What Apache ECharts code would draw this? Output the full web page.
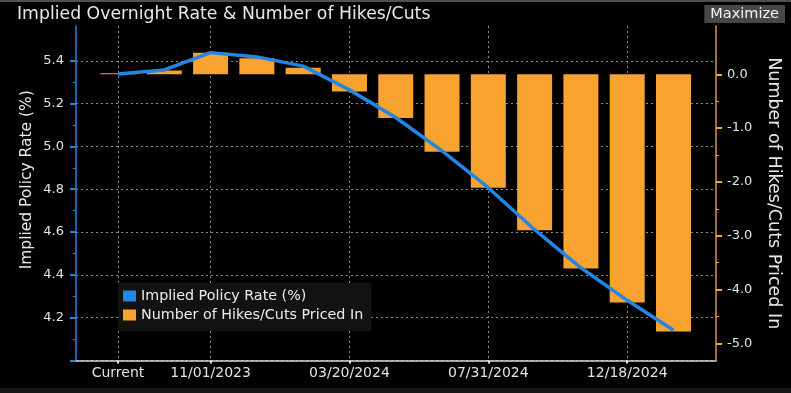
<!DOCTYPE html>
<html><head><meta charset="utf-8">
<script src="https://cdn.jsdelivr.net/npm/echarts@6/dist/echarts.min.js"></script>
<style>html,body{margin:0;padding:0;background:#000;}#c{width:791px;height:393px;}</style>
</head><body><div id="c"></div>
<script>
// ---- data ----
const categories = ['Current','09/20/2023','11/01/2023','12/13/2023','01/31/2024','03/20/2024','05/01/2024','06/12/2024','07/31/2024','09/18/2024','11/07/2024','12/18/2024','01/29/2025'];
const impliedRate = [5.338,5.357,5.438,5.418,5.375,5.264,5.135,4.979,4.807,4.611,4.433,4.281,4.141];
const hikesCuts = [0.02,0.07,0.40,0.30,0.12,-0.32,-0.81,-1.44,-2.11,-2.90,-3.61,-4.24,-4.78];
const shownDateLabels = ['Current','11/01/2023','03/20/2024','07/31/2024','12/18/2024'];
const rateTickRange = [4.0, 5.4];   // left axis tick values (step 0.2)
const rateTickStep = 0.2;
const countTickRange = [-5, 0];     // right axis tick values (step 1)
const countTickStep = 1;

// ---- layout ----
const W = 791, H = 393;
const axL = 76, axR = 716, plotTop = 26, plotBottom = 360.5;
const firstX = 118, lastX = 673.5;
const pxPerRate = 214.1, pxPerCount = 53.8, zeroCountY = 74.3;
const rateAtBottom = 4.0;
const rateY = v => plotBottom - (v - rateAtBottom) * pxPerRate;
const countY = v => zeroCountY - v * pxPerCount;
const rateMaxTop = rateAtBottom + (plotBottom - plotTop) / pxPerRate;
const countMinBottom = -(plotBottom - zeroCountY) / pxPerCount;
const countMaxTop = (zeroCountY - plotTop) / pxPerCount;

const FONT = 'DejaVu Sans';
const BLUE = '#2186e4';
const ORANGE = '#f8a22f';
const GRIDC = '#8a8a8a';
const labelFn = (i, v) => shownDateLabels.includes(v);

const chart = echarts.init(document.getElementById('c'), null, {renderer: 'canvas'});
chart.setOption({
  backgroundColor: '#000',
  animation: false,
  title: [
    {text: 'Implied Overnight Rate & Number of Hikes/Cuts', left: 12, top: 1,
     textStyle: {color: '#e8e8e8', fontSize: 17.3, fontWeight: 'normal', fontFamily: FONT}},
    {text: 'Maximize', right: 6, top: 5, padding: [1, 6, 1, 6], backgroundColor: '#474747',
     textStyle: {color: '#f2f2f2', fontSize: 14.5, fontWeight: 'normal', fontFamily: FONT, lineHeight: 16}}
  ],
  graphic: [
    {type: 'rect', shape: {x: 0, y: 0, width: W, height: 2}, style: {fill: '#505050'}, silent: true},
    {type: 'rect', shape: {x: 0, y: 388, width: W, height: 5}, style: {fill: '#151515'}, silent: true}
  ],
  legend: {
    data: ['Implied Policy Rate (%)', 'Number of Hikes/Cuts Priced In'],
    orient: 'vertical', left: 118, top: 283, icon: 'rect', itemWidth: 13, itemHeight: 11, itemGap: 5,
    backgroundColor: '#121212', padding: [6, 8, 9, 5],
    textStyle: {color: '#ececec', fontSize: 14.3, fontFamily: FONT}
  },
  grid: [
    {left: axL, right: W - axR, top: plotTop, bottom: H - plotBottom},
    {left: firstX, right: W - lastX, top: plotTop, bottom: H - plotBottom},
    {left: axL, right: W - axR, top: rateY(rateTickRange[1]), bottom: H - rateY(rateTickRange[0])},
    {left: axL, right: W - axR, top: countY(countTickRange[1]), bottom: H - countY(countTickRange[0])}
  ],
  xAxis: [
    {gridIndex: 0, type: 'value', min: 0, max: 1,
     axisLine: {show: true, onZero: false, lineStyle: {color: '#d8d8d8', width: 1.5}},
     axisTick: {show: false}, axisLabel: {show: false}, splitLine: {show: false}},
    {gridIndex: 1, type: 'category', data: categories, boundaryGap: false,
     axisLine: {show: false, onZero: false},
     axisTick: {show: true, interval: labelFn, length: 3, lineStyle: {color: '#e6e6e6', width: 2}},
     axisLabel: {interval: labelFn, color: '#e2e2e2', fontSize: 14, fontFamily: FONT, margin: 6},
     splitLine: {show: true, interval: labelFn, lineStyle: {color: GRIDC, type: [2, 3], width: 1}}},
    {gridIndex: 2, type: 'value', min: 0, max: 1, show: false, axisLine: {onZero: false}},
    {gridIndex: 3, type: 'value', min: 0, max: 1, show: false, axisLine: {onZero: false}}
  ],
  yAxis: [
    {gridIndex: 0, type: 'value', min: 0, max: 1, position: 'left',
     axisLine: {show: true, onZero: false, lineStyle: {color: BLUE, width: 1.5}},
     axisTick: {show: false}, axisLabel: {show: false}, splitLine: {show: false},
     name: 'Implied Policy Rate (%)', nameLocation: 'middle', nameGap: 41,
     nameTextStyle: {color: '#e8e8e8', fontSize: 15.5, fontFamily: FONT, padding: [0, 0, 0, 27]}},
    {gridIndex: 0, type: 'value', min: 0, max: 1, position: 'right',
     axisLine: {show: true, onZero: false, lineStyle: {color: '#d8944a', width: 1.5}},
     axisTick: {show: false}, axisLabel: {show: false}, splitLine: {show: false},
     name: 'Number of Hikes/Cuts Priced In', nameLocation: 'middle', nameGap: 49, nameRotate: -90,
     nameTextStyle: {color: '#e8e8e8', fontSize: 17.5, fontFamily: FONT}},
    {gridIndex: 2, type: 'value', position: 'left', min: rateTickRange[0], max: rateTickRange[1], interval: rateTickStep,
     axisLine: {show: false, onZero: false},
     axisTick: {show: true, length: 6, lineStyle: {color: BLUE, width: 2}},
     minorTick: {show: true, splitNumber: 2, length: 3, lineStyle: {color: BLUE, width: 1}},
     axisLabel: {color: '#e2e2e2', fontSize: 13, fontFamily: FONT, margin: 12, showMinLabel: false,
                 formatter: v => v.toFixed(1)},
     splitLine: {show: true, lineStyle: {color: GRIDC, type: [2, 3], width: 1}}},
    {gridIndex: 3, type: 'value', position: 'right', min: countTickRange[0], max: countTickRange[1], interval: countTickStep,
     axisLine: {show: false, onZero: false},
     axisTick: {show: true, length: 6, lineStyle: {color: ORANGE, width: 2}},
     minorTick: {show: true, splitNumber: 2, length: 3, lineStyle: {color: ORANGE, width: 1}},
     axisLabel: {color: '#e2e2e2', fontSize: 13, fontFamily: FONT, margin: 11,
                 formatter: v => (Math.abs(v) < 1e-9 ? 0 : v).toFixed(1)},
     splitLine: {show: false}},
    {gridIndex: 1, type: 'value', min: rateAtBottom, max: rateMaxTop, show: false, splitLine: {show: false}},
    {gridIndex: 1, type: 'value', min: countMinBottom, max: countMaxTop, show: false, splitLine: {show: false}}
  ],
  series: [
    {name: 'Number of Hikes/Cuts Priced In', type: 'bar', xAxisIndex: 1, yAxisIndex: 5,
     data: hikesCuts, barWidth: 35, clip: false, itemStyle: {color: ORANGE}, z: 2},
    {name: 'Implied Policy Rate (%)', type: 'line', xAxisIndex: 1, yAxisIndex: 4,
     data: impliedRate, showSymbol: false, symbol: 'none', clip: false,
     lineStyle: {color: BLUE, width: 3.5}, itemStyle: {color: BLUE}, z: 3}
  ]
});
</script></body></html>
